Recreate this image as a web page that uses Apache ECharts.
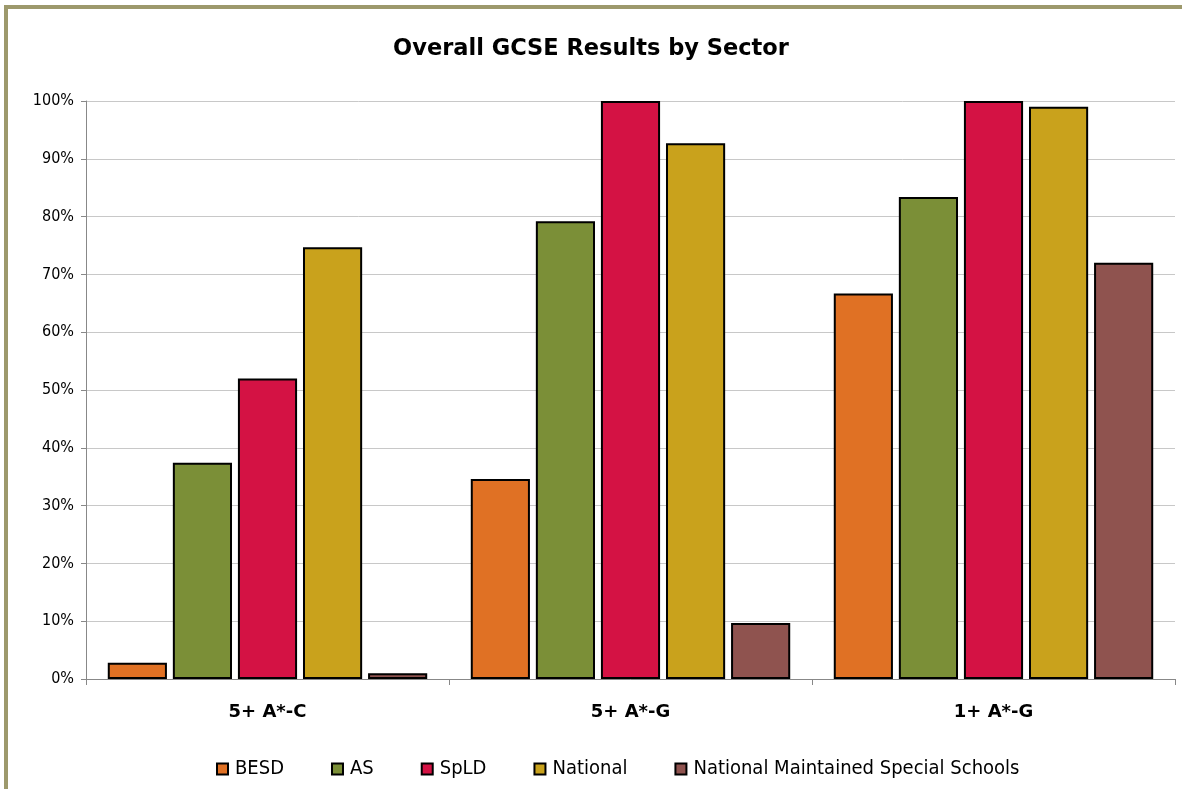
<!DOCTYPE html>
<html><head><meta charset="utf-8">
<script src="https://cdn.jsdelivr.net/npm/echarts@6/dist/echarts.min.js"></script>
<style>
html,body{margin:0;padding:0;width:1182px;height:789px;overflow:hidden;background:#fff;}
#frame{position:absolute;left:4px;top:5px;width:1200px;height:820px;border:4px solid #9d996c;box-sizing:border-box;}
#chart{position:absolute;left:0;top:0;width:1182px;height:789px;}
</style></head>
<body>
<div id="frame"></div>
<div id="chart"></div>
<script>
const categories = ['5+ A*-C', '5+ A*-G', '1+ A*-G'];
const seriesNames = ['BESD', 'AS', 'SpLD', 'National', 'National Maintained Special Schools'];
const besd = [2.8, 34.6, 66.7];
const as = [37.4, 79.2, 83.4];
const spld = [52.0, 100, 100];
const national = [74.7, 92.7, 99.0];
const nmss = [1.0, 9.7, 72.0];
const colors = ['#e07124', '#7b8f37', '#d41244', '#c9a21c', '#8f534f'];
const values = [besd, as, spld, national, nmss];

const chart = echarts.init(document.getElementById('chart'));
const font = "'DejaVu Sans', Verdana, sans-serif";
const condFont = "'DejaVu Sans Condensed', 'DejaVu Sans', sans-serif";
chart.setOption({
  animation: false,
  title: {
    text: 'Overall GCSE Results by Sector',
    left: 'center', top: 33,
    textStyle: {fontFamily: font, fontWeight: 'bold', fontSize: 22.5, color: '#000'}
  },
  legend: {
    bottom: 5, left: 211,
    itemWidth: 11, itemHeight: 11, itemGap: 47,
    icon: 'rect',
    textStyle: {fontFamily: condFont, fontSize: 20, color: '#000', padding: [0, 0, 0, 2]},
    data: seriesNames
  },
  grid: {left: 86, top: 101, right: 7, bottom: 110, containLabel: false},
  xAxis: {
    type: 'category', data: categories,
    axisLine: {lineStyle: {color: '#888', width: 1}},
    axisTick: {show: true, length: 6, lineStyle: {color: '#888'}},
    axisLabel: {fontFamily: font, fontWeight: 'bold', fontSize: 18, color: '#000', margin: 24}
  },
  yAxis: {
    type: 'value', min: 0, max: 100, interval: 10,
    axisLine: {show: true, lineStyle: {color: '#888'}},
    axisTick: {show: true, length: 5, lineStyle: {color: '#888'}},
    splitLine: {lineStyle: {color: '#c8c8c8'}},
    axisLabel: {formatter: '{value}%', fontFamily: condFont, fontSize: 16, color: '#000', margin: 12}
  },
  series: seriesNames.map((n, i) => ({
    name: n, type: 'bar', data: values[i],
    barGap: '10%', barCategoryGap: '12%',
    itemStyle: {color: colors[i], borderColor: '#000', borderWidth: 2}
  }))
});
</script>
</body></html>
